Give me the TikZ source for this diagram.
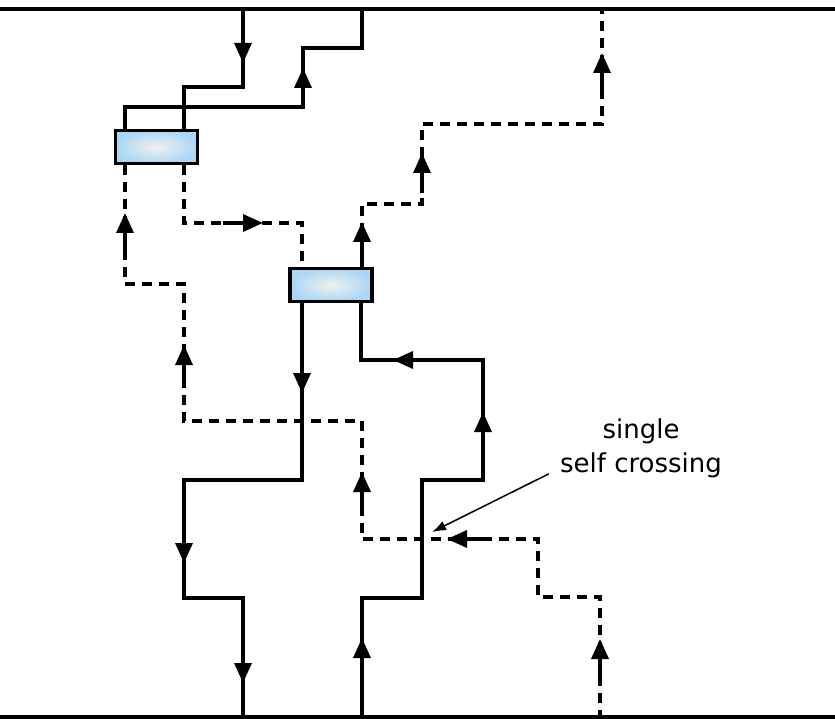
\documentclass[tikz,border=0pt]{standalone}
\usepackage{fontspec}
\usepackage{xcolor}
\usepackage{tikz}
\usetikzlibrary{arrows.meta, calc}
\newfontfamily\rotulofonte{DejaVu Sans}
\definecolor{azulfita}{RGB}{172,214,245}
\definecolor{brancofita}{RGB}{240,240,240}

\begin{document}
\begin{tikzpicture}[
        x=1pt, y=-1pt,
        every node/.style={align=center, font=\rotulofonte\fontsize{26}{34}\selectfont},
        caixa/.style={draw, line width=3.4pt, inner color=brancofita, outer color=azulfita, minimum width=82pt, minimum height=33pt, inner sep=0pt},
        fio/.style={line width=3.4pt},
        fiotrac/.style={line width=3.4pt, dash pattern=on 10pt off 7pt},
        seta/.style={line width=3.4pt, -{Triangle[length=20pt, width=17pt]}},
        nota/.style={line width=1.5pt, -{Latex[length=14pt, width=10pt]}}
    ]
        \useasboundingbox (0,0) rectangle (835,719);
        \draw[fio] (0,9) -- (835,9);
        \draw[fio] (0,717) -- (835,717);
        \node[caixa] (fita1) at (156.5,147) {};
        \node[caixa] (fita2) at (331,285) {};
        % fios cheios
        \draw[fio] (243,9) |- (184,87) -- (184,0 |- fita1.north);
        \draw[fio] (362,9) |- (303,48) |- (125,107) -- (125,0 |- fita1.north);
        \draw[fio] (302,0 |- fita2.south) |- (184,480) |- (243,598) -- (243,717);
        \draw[fio] (361,0 |- fita2.south) |- (483,360) |- (422,480) |- (362,598) -- (362,717);
        % fios tracejados
        \draw[fiotrac] (125,0 |- fita1.south) |- (184,284) |- (362,421) |- (538,539) |- (600,597) -- (600,717);
        \draw[fiotrac] (184,0 |- fita1.south) |- (302,223) -- (302,0 |- fita2.north);
        \draw[fiotrac] (362,0 |- fita2.north) |- (422,204) |- (602,124) -- (602,9);
        % setas
        \draw[seta] (243,35) -- (243,63);
        \draw[seta] (303,96) -- (303,68);
        \draw[seta] (302,365) -- (302,393);
        \draw[seta] (184,535) -- (184,563);
        \draw[seta] (243,655) -- (243,683);
        \draw[seta] (362,666) -- (362,638);
        \draw[seta] (483,440) -- (483,412);
        \draw[seta] (421,360) -- (393,360);
        \draw[seta] (125,253) -- (125,213);
        \draw[seta] (223,223) -- (263,223);
        \draw[seta] (184,385) -- (184,345);
        \draw[seta] (362,262) -- (362,222);
        \draw[seta] (422,193) -- (422,153);
        \draw[seta] (602,93) -- (602,53);
        \draw[seta] (362,512) -- (362,472);
        \draw[seta] (487,539) -- (447,539);
        \draw[seta] (600,679) -- (600,639);
        % rotulo
        \node[inner sep=0pt] (rotulo) at (641,448) {single\\self crossing};
        \coordinate (cruz) at (432,532);
        \draw[nota] ([shift={(-11,-4)}]rotulo.south west) -- (cruz);
    \end{tikzpicture}
\end{document}
